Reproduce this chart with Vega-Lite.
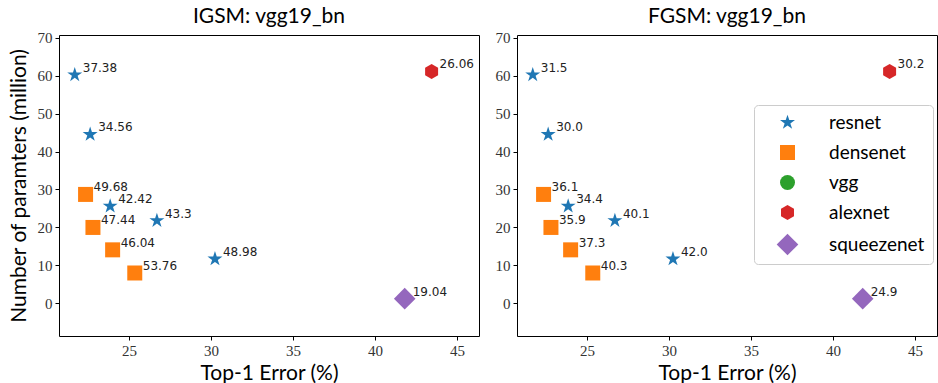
{
  "$schema": "https://vega.github.io/schema/vega-lite/v6.json",
  "padding": {"left": 7, "top": 5, "right": 0, "bottom": 0},
  "background": "white",
  "spacing": 14,
  "config": {
    "view": {"stroke": "black", "strokeWidth": 1},
    "axis": {
      "grid": false,
      "domain": false,
      "tickColor": "black",
      "tickSize": 4,
      "labelFont": "Liberation Serif",
      "labelFontSize": 15,
      "labelColor": "#333",
      "labelPadding": 3,
      "titleFont": "Lato",
      "titleFontSize": 21,
      "titleFontWeight": "normal",
      "titleColor": "black"
    },
    "title": {"font": "Lato", "fontSize": 21, "fontWeight": "normal", "color": "black", "offset": 4}
  },
  "datasets": {
    "igsm": [
      {"model": "resnet", "err": 21.69, "params": 60.2, "label": "37.38"},
      {"model": "resnet", "err": 22.63, "params": 44.5, "label": "34.56"},
      {"model": "resnet", "err": 23.85, "params": 25.6, "label": "42.42"},
      {"model": "resnet", "err": 26.70, "params": 21.8, "label": "43.3"},
      {"model": "resnet", "err": 30.24, "params": 11.7, "label": "48.98"},
      {"model": "densenet", "err": 22.35, "params": 28.7, "label": "49.68"},
      {"model": "densenet", "err": 22.80, "params": 20.0, "label": "47.44"},
      {"model": "densenet", "err": 24.00, "params": 14.1, "label": "46.04"},
      {"model": "densenet", "err": 25.35, "params": 8.0, "label": "53.76"},
      {"model": "alexnet", "err": 43.45, "params": 61.1, "label": "26.06"},
      {"model": "squeezenet", "err": 41.81, "params": 1.24, "label": "19.04"}
    ],
    "fgsm": [
      {"model": "resnet", "err": 21.69, "params": 60.2, "label": "31.5"},
      {"model": "resnet", "err": 22.63, "params": 44.5, "label": "30.0"},
      {"model": "resnet", "err": 23.85, "params": 25.6, "label": "34.4"},
      {"model": "resnet", "err": 26.70, "params": 21.8, "label": "40.1"},
      {"model": "resnet", "err": 30.24, "params": 11.7, "label": "42.0"},
      {"model": "densenet", "err": 22.35, "params": 28.7, "label": "36.1"},
      {"model": "densenet", "err": 22.80, "params": 20.0, "label": "35.9"},
      {"model": "densenet", "err": 24.00, "params": 14.1, "label": "37.3"},
      {"model": "densenet", "err": 25.35, "params": 8.0, "label": "40.3"},
      {"model": "alexnet", "err": 43.45, "params": 61.1, "label": "30.2"},
      {"model": "squeezenet", "err": 41.81, "params": 1.24, "label": "24.9"}
    ]
  },
  "resolve": {"scale": {"color": "independent", "shape": "independent"}, "legend": {"color": "independent", "shape": "independent"}},
  "hconcat": [
    {
      "title": "IGSM: vgg19_bn",
      "width": 420,
      "height": 301,
      "data": {"name": "igsm"},
      "encoding": {
        "x": {"field": "err", "type": "quantitative", "title": "Top-1 Error (%)",
              "scale": {"domain": [20.73, 46.34], "nice": false, "zero": false},
              "axis": {"values": [25, 30, 35, 40, 45], "titlePadding": 4}},
        "y": {"field": "params", "type": "quantitative", "title": "Number of paramters (million)",
              "scale": {"domain": [-8.6, 70.7], "nice": false, "zero": false},
              "axis": {"values": [0, 10, 20, 30, 40, 50, 60, 70], "titlePadding": 8}}
      },
      "layer": [
        {
          "mark": {"type": "point", "filled": true, "opacity": 1, "size": 225},
          "encoding": {
            "color": {"field": "model", "type": "nominal", "legend": null,
                      "scale": {"domain": ["resnet", "densenet", "vgg", "alexnet", "squeezenet"],
                                "range": ["#1f77b4", "#ff7f0e", "#2ca02c", "#d62728", "#9467bd"]}},
            "shape": {"field": "model", "type": "nominal", "legend": null,
                      "scale": {"domain": ["resnet", "densenet", "vgg", "alexnet", "squeezenet"],
                                "range": ["M0,-1.05L-0.236,-0.324L-0.999,-0.324L-0.381,0.124L-0.617,0.849L0,0.401L0.617,0.849L0.381,0.124L0.999,-0.324L0.236,-0.324Z", "square", "circle", "M0,-1L0.866,-0.5L0.866,0.5L0,1L-0.866,0.5L-0.866,-0.5Z", "M0,-1.44L1.44,0L0,1.44L-1.44,0Z"]}}
          }
        },
        {
          "mark": {"type": "text", "align": "left", "baseline": "alphabetic", "dx": 8, "dy": -3, "font": "DejaVu Sans", "fontSize": 12, "color": "#222"},
          "encoding": {"text": {"field": "label", "type": "nominal"}}
        }
      ]
    },
    {
      "title": "FGSM: vgg19_bn",
      "width": 420,
      "height": 301,
      "data": {"name": "fgsm"},
      "encoding": {
        "x": {"field": "err", "type": "quantitative", "title": "Top-1 Error (%)",
              "scale": {"domain": [20.73, 46.34], "nice": false, "zero": false},
              "axis": {"values": [25, 30, 35, 40, 45], "titlePadding": 4}},
        "y": {"field": "params", "type": "quantitative", "title": null,
              "scale": {"domain": [-8.6, 70.7], "nice": false, "zero": false},
              "axis": {"values": [0, 10, 20, 30, 40, 50, 60, 70]}}
      },
      "layer": [
        {
          "mark": {"type": "point", "filled": true, "opacity": 1, "size": 225},
          "encoding": {
            "color": {"field": "model", "type": "nominal",
                      "scale": {"domain": ["resnet", "densenet", "vgg", "alexnet", "squeezenet"],
                                "range": ["#1f77b4", "#ff7f0e", "#2ca02c", "#d62728", "#9467bd"]},
                      "legend": {"orient": "none", "legendX": 237, "legendY": 70, "title": null,
                                 "symbolSize": 225, "symbolOpacity": 1, "symbolStrokeWidth": 0,
                                 "labelFont": "Lato", "labelFontSize": 19, "labelColor": "black",
                                 "labelOffset": 32, "rowPadding": 10, "padding": 8, "symbolOffset": 16,
                                 "strokeColor": "#cccccc", "fillColor": "white", "cornerRadius": 4, "labelLimit": 300}},
            "shape": {"field": "model", "type": "nominal",
                      "scale": {"domain": ["resnet", "densenet", "vgg", "alexnet", "squeezenet"],
                                "range": ["M0,-1.05L-0.236,-0.324L-0.999,-0.324L-0.381,0.124L-0.617,0.849L0,0.401L0.617,0.849L0.381,0.124L0.999,-0.324L0.236,-0.324Z", "square", "circle", "M0,-1L0.866,-0.5L0.866,0.5L0,1L-0.866,0.5L-0.866,-0.5Z", "M0,-1.44L1.44,0L0,1.44L-1.44,0Z"]},
                      "legend": {"orient": "none", "legendX": 237, "legendY": 70, "title": null,
                                 "symbolSize": 225, "symbolOpacity": 1, "symbolStrokeWidth": 0,
                                 "labelFont": "Lato", "labelFontSize": 19, "labelColor": "black",
                                 "labelOffset": 32, "rowPadding": 10, "padding": 8, "symbolOffset": 16,
                                 "strokeColor": "#cccccc", "fillColor": "white", "cornerRadius": 4, "labelLimit": 300}}
          }
        },
        {
          "mark": {"type": "text", "align": "left", "baseline": "alphabetic", "dx": 8, "dy": -3, "font": "DejaVu Sans", "fontSize": 12, "color": "#222"},
          "encoding": {"text": {"field": "label", "type": "nominal"}}
        }
      ]
    }
  ]
}
